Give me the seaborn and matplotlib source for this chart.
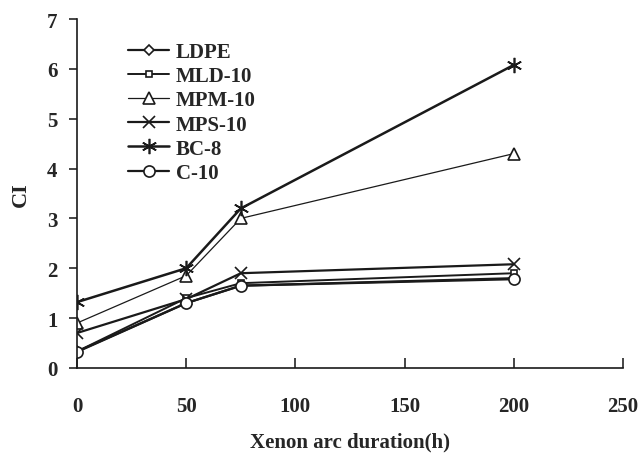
import matplotlib
matplotlib.use("Agg")
import matplotlib.pyplot as plt
import seaborn as sns
import pandas as pd

sns.set_style("ticks")
plt.rcParams['font.family'] = ['Liberation Serif', 'DejaVu Serif']

hours = [0, 50, 75, 200]
ldpe = [0.33, 1.30, 1.65, 1.80]
mld10 = [0.33, 1.40, 1.70, 1.90]
mpm10 = [0.90, 1.85, 3.00, 4.30]
mps10 = [0.70, 1.38, 1.90, 2.08]
bc8 = [1.32, 2.00, 3.20, 6.08]
c10 = [0.32, 1.30, 1.65, 1.78]

series = ["LDPE", "MLD-10", "MPM-10", "MPS-10", "BC-8", "C-10"]
values = [ldpe, mld10, mpm10, mps10, bc8, c10]
markers = ["D", "s", "^", "x", (6, 2, 0), "o"]
msizes = [5, 5, 9, 9, 11, 8]
lws = [1.6, 1.4, 0.9, 1.6, 1.8, 1.6]

df = pd.DataFrame([(s, h, v) for s, vals in zip(series, values) for h, v in zip(hours, vals)],
                  columns=["series", "hours", "CI"])

fig = plt.figure(figsize=(6.39, 4.56), dpi=100)
ax = fig.add_axes([0.1205, 0.191, 0.8545, 0.765])

for s, m, ms, lw in zip(series, markers, msizes, lws):
    sub = df[df.series == s]
    sns.lineplot(data=sub, x="hours", y="CI", ax=ax, color="#1a1a1a", linewidth=lw,
                 marker=m, markersize=ms, markerfacecolor="white",
                 markeredgecolor="#1a1a1a", markeredgewidth=1.2, label=s)

ax.set_xlim(0, 250)
ax.set_ylim(0, 7)
ax.set_xticks([0, 50, 100, 150, 200, 250])
ax.set_yticks(range(0, 8))
ax.tick_params(axis="x", labelsize=15, direction="in", length=7, width=1.2, pad=20)
ax.tick_params(axis="y", labelsize=15, direction="out", length=6, width=1.2, pad=8)
for lab in ax.get_xticklabels() + ax.get_yticklabels():
    lab.set_fontweight("bold")
for side in ["top", "right"]:
    ax.spines[side].set_visible(False)
for side in ["left", "bottom"]:
    ax.spines[side].set_linewidth(1.2)
    ax.spines[side].set_color("#1a1a1a")

ax.set_xlabel("Xenon arc duration(h)", fontsize=15, fontweight="bold")
ax.xaxis.set_label_coords(0.5, -0.183)
ax.set_ylabel("CI", fontsize=16, fontweight="bold", labelpad=12)

leg = ax.legend(loc="upper left", bbox_to_anchor=(0.07, 0.97), frameon=False,
                prop={"weight": "bold", "size": 15}, handlelength=2.0, labelspacing=0.2,
                handletextpad=0.3, borderaxespad=0.2)

fig.savefig("out.png", dpi=100)
